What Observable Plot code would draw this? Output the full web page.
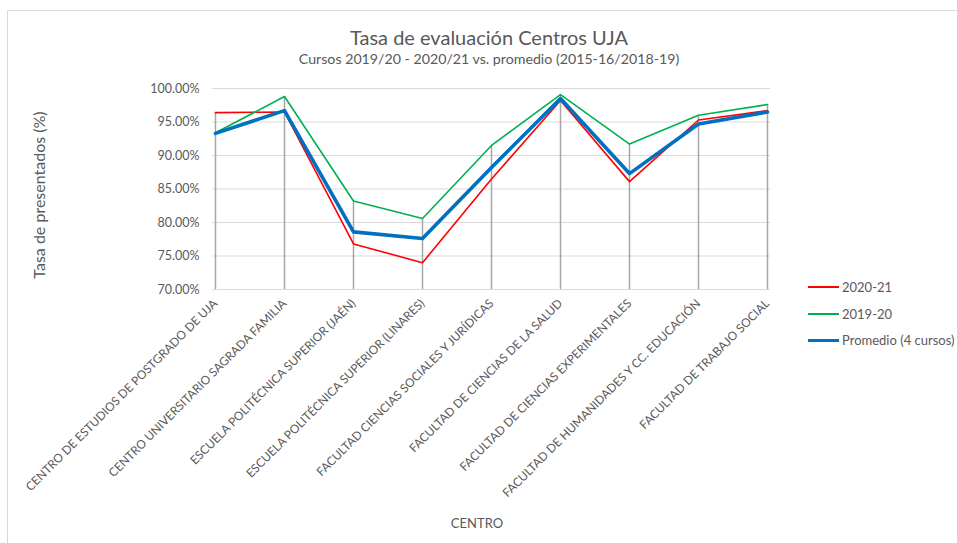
<!DOCTYPE html>
<html>
<head>
<meta charset="utf-8">
<script src="https://cdn.jsdelivr.net/npm/d3@7"></script>
<script src="https://cdn.jsdelivr.net/npm/@observablehq/plot@0.6"></script>
<style>
  html, body { margin: 0; padding: 0; background: #fff; }
  #wrap { position: relative; width: 957px; height: 543px; overflow: hidden; font-family: Lato, "Open Sans", sans-serif; color: #595959; }
  #border { position: absolute; left: 7px; top: 10px; width: 980px; height: 560px; border: 1px solid #d9d9d9; box-sizing: border-box; }
  #chart { position: absolute; left: 0; top: 0; }
  .title { position: absolute; left: 0; width: 978px; text-align: center; white-space: nowrap; }
  #t1 { top: 25px; font-size: 20px; }
  #t2 { top: 50px; font-size: 14.2px; }
  #ylab { position: absolute; left: 38px; top: 195px; transform: translate(-50%, -50%) rotate(-90deg); font-size: 16px; white-space: nowrap; }
  #xlab { position: absolute; left: 477px; top: 523px; transform: translate(-50%, -50%); font-size: 13px; }
  #legend { position: absolute; left: 808px; top: 274px; font-size: 13px; }
  .li { display: flex; align-items: center; height: 26.5px; white-space: nowrap; }
  .sw { width: 31px; margin-right: 3px; }
</style>
</head>
<body>
<div id="wrap">
  <div id="border"></div>
  <div id="chart"></div>
  <div class="title" id="t1">Tasa de evaluación Centros UJA</div>
  <div class="title" id="t2">Cursos 2019/20 - 2020/21 vs. promedio (2015-16/2018-19)</div>
  <div id="ylab">Tasa de presentados (%)</div>
  <div id="xlab">CENTRO</div>
  <div id="legend"></div>
</div>
<script>
const centros = [
  "CENTRO DE ESTUDIOS DE POSTGRADO DE UJA",
  "CENTRO UNIVERSITARIO SAGRADA FAMILIA",
  "ESCUELA POLITÉCNICA SUPERIOR (JAÉN)",
  "ESCUELA POLITÉCNICA SUPERIOR (LINARES)",
  "FACULTAD CIENCIAS SOCIALES Y JURÍDICAS",
  "FACULTAD DE CIENCIAS DE LA SALUD",
  "FACULTAD DE CIENCIAS EXPERIMENTALES",
  "FACULTAD DE HUMANIDADES Y CC. EDUCACIÓN",
  "FACULTAD DE TRABAJO SOCIAL"
];
const serie2021 = [96.4, 96.5, 76.8, 74.0, 86.5, 98.2, 86.1, 95.3, 96.7];
const serie1920 = [93.4, 98.8, 83.2, 80.6, 91.5, 99.1, 91.7, 96.0, 97.6];
const promedio  = [93.3, 96.7, 78.6, 77.6, 88.2, 98.5, 87.3, 94.7, 96.5];
const yTicks = [70, 75, 80, 85, 90, 95, 100];
const seriesNames = ["2020-21", "2019-20", "Promedio (4 cursos)"];
const seriesColors = ["#ff0000", "#00b050", "#0070c0"];
const seriesWidths = [1.6, 1.6, 3.6];

const rows = centros.map((c, i) => ({
  centro: c,
  max: Math.max(serie2021[i], serie1920[i], promedio[i])
}));
const seriesData = [serie2021, serie1920, promedio].map(arr => centros.map((c, i) => ({centro: c, v: arr[i]})));

const chart = Plot.plot({
  width: 957,
  height: 543,
  marginTop: 88,
  marginBottom: 254,
  marginLeft: 212,
  marginRight: 187,
  style: { fontFamily: "Lato, 'Open Sans', sans-serif", color: "#595959", background: "transparent" },
  x: { type: "point", domain: centros, padding: 0 },
  y: { domain: [70, 100] },
  marks: [
    Plot.gridY(yTicks, { stroke: "#d9d9d9", strokeOpacity: 1, strokeWidth: 1 }),
    Plot.ruleX(rows, { x: "centro", y1: 70, y2: "max", stroke: "#a6a6a6", strokeWidth: 1.5 }),
    ...seriesData.map((d, k) => Plot.lineY(d, { x: "centro", y: "v", stroke: seriesColors[k], strokeWidth: seriesWidths[k] })),
    Plot.axisY(yTicks, { tickSize: 0, tickPadding: 13, tickFormat: d => d.toFixed(2) + "%", fontSize: 12.5, fill: "#595959", label: null }),
    Plot.axisX({ tickSize: 0, tickPadding: 12, tickRotate: -45, fontSize: 11.9, fill: "#595959", label: null })
  ]
});
document.getElementById("chart").appendChild(chart);

const legend = document.getElementById("legend");
seriesNames.forEach((n, k) => {
  const li = document.createElement("div");
  li.className = "li";
  li.innerHTML = `<div class="sw" style="border-top:${seriesWidths[k] > 2 ? 3.5 : 2}px solid ${seriesColors[k]}"></div><span>${n}</span>`;
  legend.appendChild(li);
});
</script>
</body>
</html>
